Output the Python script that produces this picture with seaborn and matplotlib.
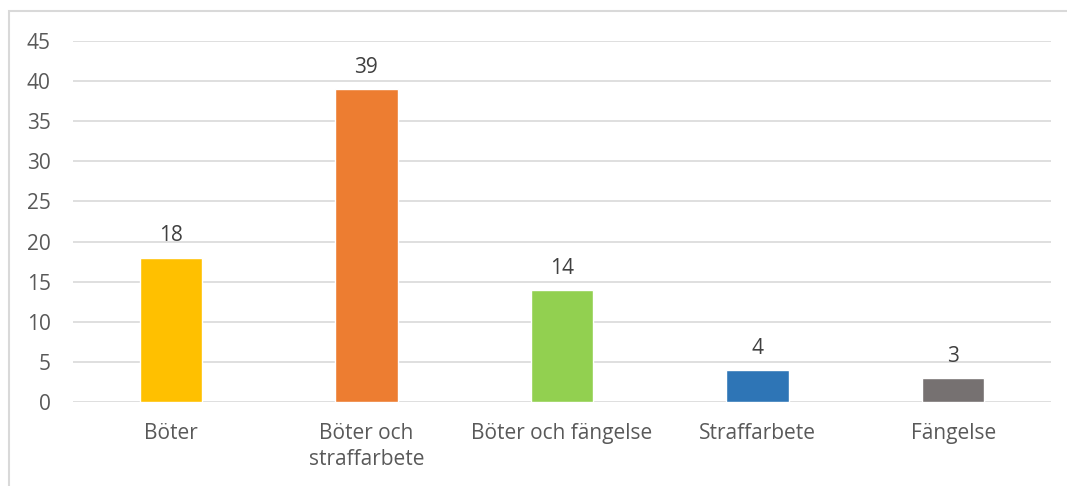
import pandas as pd
import matplotlib
matplotlib.use("Agg")
import matplotlib.pyplot as plt
import seaborn as sns
from matplotlib.patches import Rectangle

# data
categories = ["Böter", "Böter och\nstraffarbete", "Böter och fängelse", "Straffarbete", "Fängelse"]
values = [18, 39, 14, 4, 3]
colors = ["#FFC000", "#ED7D31", "#92D050", "#2E75B6", "#767171"]
yticks = [0, 5, 10, 15, 20, 25, 30, 35, 40, 45]

df = pd.DataFrame({"category": categories, "value": values})

sns.set_theme(style="white")
plt.rcParams["font.family"] = ["Open Sans", "DejaVu Sans"]

fig = plt.figure(figsize=(10.67, 4.86), dpi=100)
ax = fig.add_axes([73 / 1067, 1 - 402 / 486, (1051 - 73) / 1067, (402 - 41) / 486])

# outer frame (chart area border, cropped on the right/bottom)
fig.patches.append(Rectangle((9 / 1067, -0.1), 1.2, 1 - 11 / 486 + 0.1,
                             transform=fig.transFigure, fill=False,
                             edgecolor="#D9D9D9", linewidth=1.5, zorder=0))

sns.barplot(data=df, x="category", y="value", hue="category", palette=colors,
            legend=False, width=0.32, saturation=1, ax=ax, zorder=3)

ax.set_ylim(0, 45)
ax.set_yticks(yticks)
ax.yaxis.grid(True, color="#D9D9D9", linewidth=1.2)
ax.set_axisbelow(True)
for s in ["top", "right", "left", "bottom"]:
    ax.spines[s].set_visible(False)

ax.set_xlabel("")
ax.set_ylabel("")
ax.tick_params(axis="y", length=0, pad=16, labelsize=15, labelcolor="#595959")
ax.tick_params(axis="x", length=0, pad=15, labelsize=15, labelcolor="#595959")
for lbl in ax.get_xticklabels():
    lbl.set_linespacing(1.35)

for c in ax.containers:
    ax.bar_label(c, padding=8, fontsize=15, color="#404040")

fig.savefig("out.png", dpi=100)
